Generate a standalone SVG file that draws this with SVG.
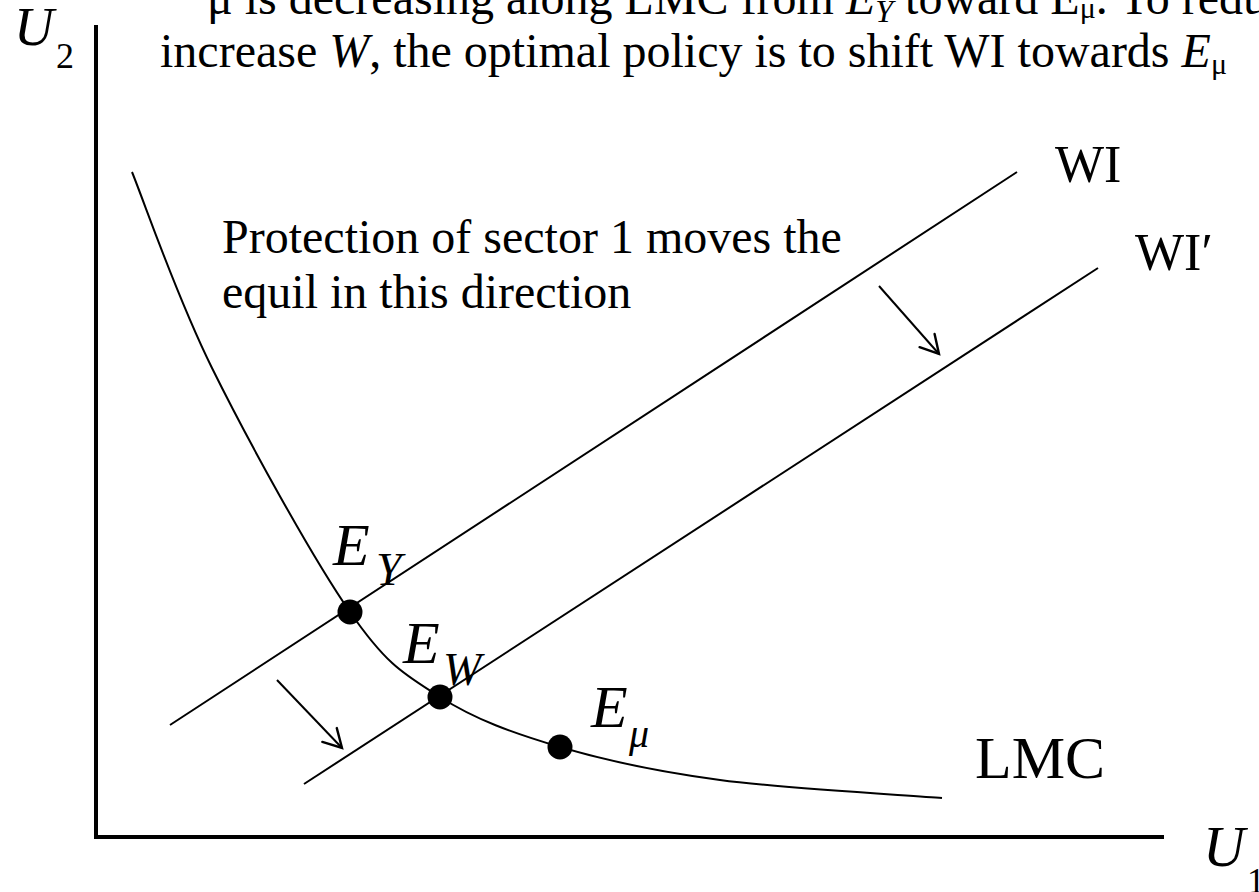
<svg xmlns="http://www.w3.org/2000/svg" width="1259" height="892" viewBox="0 0 1259 892">
<style>
  text { font-family: "Liberation Serif", "Times New Roman", serif; fill: #000; }
  .it { font-style: italic; }
  .ln { stroke: #000; stroke-width: 2; fill: none; }
  .ax { stroke: #000; stroke-width: 4; fill: none; }
  .dot { fill: #000; }
</style>
<defs>
  <marker id="vh" markerUnits="userSpaceOnUse" viewBox="-22 -12 24 24" markerWidth="24" markerHeight="24" refX="0" refY="0" orient="auto" overflow="visible">
    <path d="M-18,-10 L0,0 L-18,10" stroke="#000" stroke-width="2.4" fill="none" stroke-linecap="round"/>
  </marker>
</defs>
<rect width="1259" height="892" fill="#fff"/>

<g id="axes">
  <line class="ax" x1="96" y1="25" x2="96" y2="839"/>
  <line class="ax" x1="94" y1="837" x2="1164" y2="837"/>
  <text x="14" y="45" font-size="55" class="it">U</text>
  <text x="56" y="68" font-size="36">2</text>
  <text x="1203" y="866" font-size="58" class="it">U</text>
  <text x="1247" y="893" font-size="36">1</text>
</g>

<g id="title">
  <text x="207" y="14" font-size="48">μ is decreasing along LMC from <tspan class="it">E</tspan><tspan class="it" font-size="32" dy="8">Y</tspan><tspan dy="-8"> toward E</tspan><tspan font-size="30" dy="4">μ</tspan><tspan dy="-4">. To redu</tspan></text>
  <text x="160" y="67" font-size="48">increase <tspan class="it">W</tspan>, the optimal policy is to shift WI towards <tspan class="it">E</tspan><tspan font-size="30" dy="7">μ</tspan></text>
</g>

<g id="lmc">
  <path class="ln" d="M132,172 C145.3,204.7 175.7,294.7 212,368 C248.3,441.3 312,557.2 350,612 C388,666.8 405,674.5 440,697 C475,719.5 513.3,733.2 560,747 C606.7,760.8 656.3,771.5 720,780 C783.7,788.5 905,795 942,798"/>
  <text x="975" y="778" font-size="60">LMC</text>
</g>

<g id="wi">
  <line class="ln" x1="170" y1="725" x2="1017" y2="172"/>
  <text x="1055" y="182" font-size="52">WI</text>
</g>

<g id="wi-prime">
  <line class="ln" x1="304" y1="784" x2="1098" y2="268"/>
  <text x="1135" y="270" font-size="52">WI′</text>
</g>

<g id="note">
  <text x="222" y="253" font-size="48">Protection of sector 1 moves the</text>
  <text x="222" y="308" font-size="48">equil in this direction</text>
</g>

<g id="E-Y">
  <circle class="dot" cx="350" cy="612" r="12.5"/>
  <text x="333" y="565" font-size="60" class="it">E</text>
  <text x="376" y="585" font-size="46" class="it">Y</text>
</g>

<g id="E-W">
  <circle class="dot" cx="440" cy="697" r="12.5"/>
  <text x="403" y="663" font-size="60" class="it">E</text>
  <text x="443" y="685" font-size="46" class="it">W</text>
</g>

<g id="E-mu">
  <circle class="dot" cx="560" cy="747" r="12.5"/>
  <text x="591" y="727" font-size="60" class="it">E</text>
  <text x="629" y="747" font-size="40" class="it">μ</text>
</g>

<g id="connectors">
  <line class="ln" x1="277" y1="680" x2="342" y2="748" marker-end="url(#vh)"/>
  <line class="ln" x1="879" y1="286" x2="939" y2="354" marker-end="url(#vh)"/>
</g>
</svg>
